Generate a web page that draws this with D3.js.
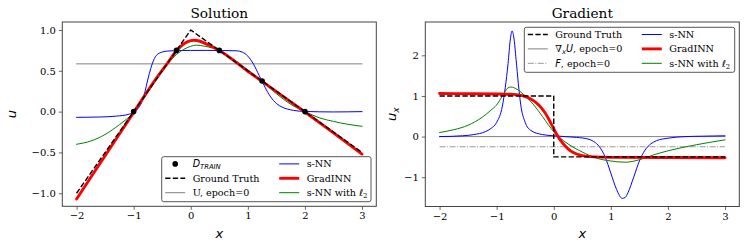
<!DOCTYPE html>
<html>
<head>
<meta charset="utf-8">
<script src="https://cdn.jsdelivr.net/npm/d3@7"></script>
<style>
  body { margin: 0; background: #fff; }
  text { font-family: "DejaVu Serif", serif; fill: #000; }
  .math { font-family: "DejaVu Sans", sans-serif; font-style: italic; }
</style>
</head>
<body>
<div id="container"></div>
<script>
// ---- data ----
const xTicks = [-2, -1, 0, 1, 2, 3];
const uTicks = [-1, -0.5, 0, 0.5, 1];
const uxTicks = [-1, 0, 1, 2];

// Solution panel
const truthX = [-2, 0, 3];
const truthU = [-1, 1, -0.5];
const trainX = [-1, -0.25, 0.5, 1.25, 2];
const trainU = [0, 0.75, 0.75, 0.375, 0];
const initU = 0.585;

const snnX = [-2, -1.6, -1.3, -1.1, -1.0, -0.95, -0.9, -0.85, -0.8, -0.75, -0.7, -0.65, -0.6, -0.5, -0.4, -0.2, 0, 0.3, 0.6, 0.8, 0.9, 1.0, 1.1, 1.2, 1.25, 1.3, 1.4, 1.5, 1.6, 1.7, 1.8, 2.0, 2.5, 3.0];
const snnU = [-0.07, -0.066, -0.055, -0.035, -0.01, 0.02, 0.06, 0.13, 0.25, 0.4, 0.53, 0.63, 0.69, 0.73, 0.742, 0.748, 0.75, 0.75, 0.748, 0.745, 0.73, 0.68, 0.58, 0.44, 0.37, 0.3, 0.18, 0.1, 0.055, 0.03, 0.015, 0.002, -0.004, 0.0];

const gradX = [-2, -1.5, -1, -0.6, -0.4, -0.25, -0.1, 0, 0.05, 0.15, 0.3, 0.5, 1, 1.5, 2, 2.5, 3];
const gradU = [-1.07, -0.54, -0.01, 0.41, 0.6, 0.745, 0.84, 0.87, 0.875, 0.865, 0.82, 0.75, 0.495, 0.245, -0.005, -0.26, -0.52];

const l2X = [-2, -1.75, -1.5, -1.25, -1, -0.75, -0.5, -0.25, 0, 0.1, 0.25, 0.5, 0.75, 1, 1.25, 1.5, 1.75, 2, 2.25, 2.5, 2.75, 3];
const l2U = [-0.4, -0.36, -0.28, -0.16, -0.01, 0.24, 0.5, 0.7, 0.8, 0.815, 0.8, 0.75, 0.64, 0.51, 0.37, 0.22, 0.09, 0.0, -0.075, -0.12, -0.155, -0.18];

// Gradient panel
const truthGX = [-2, 0, 0, 3];
const truthGU = [1, 1, -0.5, -0.5];
const initGrad = 0;
const initF = -0.25;

const snnGX = [-2, -1.6, -1.4, -1.2, -1.1, -1.0, -0.9, -0.85, -0.8, -0.76, -0.73, -0.7, -0.66, -0.62, -0.58, -0.5, -0.4, -0.2, 0, 0.2, 0.4, 0.6, 0.7, 0.8, 0.9, 1.0, 1.1, 1.2, 1.25, 1.3, 1.4, 1.5, 1.6, 1.7, 1.8, 2.0, 2.3, 2.6, 3.0];
const snnGU = [0.0, 0.02, 0.05, 0.12, 0.2, 0.35, 0.75, 1.2, 1.8, 2.4, 2.6, 2.45, 1.9, 1.3, 0.8, 0.35, 0.15, 0.05, 0.02, 0.0, -0.02, -0.06, -0.12, -0.25, -0.5, -0.9, -1.3, -1.52, -1.5, -1.38, -1.0, -0.6, -0.33, -0.18, -0.1, -0.04, 0.0, 0.01, 0.02];

const gradGX = [-2, -1.5, -1, -0.7, -0.55, -0.45, -0.35, -0.25, -0.15, -0.05, 0.05, 0.15, 0.25, 0.35, 0.5, 0.7, 1, 2, 3];
const gradGU = [1.06, 1.055, 1.05, 1.04, 1.01, 0.96, 0.88, 0.76, 0.58, 0.33, 0.06, -0.15, -0.3, -0.4, -0.47, -0.5, -0.51, -0.515, -0.52];

const l2GX = [-2, -1.75, -1.5, -1.25, -1.1, -1.0, -0.9, -0.8, -0.75, -0.65, -0.5, -0.35, -0.2, -0.1, 0, 0.1, 0.25, 0.5, 0.75, 1.0, 1.25, 1.5, 1.75, 2.0, 2.5, 3.0];
const l2GU = [0.1, 0.17, 0.28, 0.48, 0.65, 0.78, 1.0, 1.2, 1.22, 1.17, 1.0, 0.78, 0.5, 0.3, 0.12, -0.02, -0.18, -0.38, -0.53, -0.6, -0.63, -0.57, -0.45, -0.35, -0.2, -0.08];

// ---- drawing ----
const svg = d3.select('#container').append('svg')
  .attr('width', 747).attr('height', 249);
svg.append('rect').attr('width', 747).attr('height', 249).attr('fill', '#fff');

const fmtMinus = s => s.replace('-', '\u2212');

function zip(xs, ys) {
  return xs.map((x, i) => [x, ys[i]]);
}

function panel(opt) {
  const g = svg.append('g');
  const x = d3.scaleLinear().domain([-2.25, 3.25]).range([opt.left, opt.right]);
  const y = d3.scaleLinear().domain(opt.yDomain).range([opt.bottom, opt.top]);

  const clip = 'clip' + opt.name;
  svg.append('clipPath').attr('id', clip).append('rect')
    .attr('x', opt.left).attr('y', opt.top)
    .attr('width', opt.right - opt.left).attr('height', opt.bottom - opt.top);

  const plot = g.append('g').attr('clip-path', 'url(#' + clip + ')');

  const smooth = d3.line().x(d => x(d[0])).y(d => y(d[1])).curve(d3.curveMonotoneX);
  const straight = d3.line().x(d => x(d[0])).y(d => y(d[1]));

  opt.series.forEach(s => {
    plot.append('path')
      .attr('d', (s.smooth ? smooth : straight)(s.data))
      .attr('fill', 'none')
      .attr('stroke', s.color)
      .attr('stroke-width', s.width)
      .attr('stroke-dasharray', s.dash || null)
      .attr('stroke-linejoin', 'round')
      .attr('stroke-linecap', s.dash ? 'butt' : 'round');
  });

  if (opt.points) {
    plot.selectAll('circle')
      .data(opt.points)
      .enter()
      .append('circle')
      .attr('cx', d => x(d[0]))
      .attr('cy', d => y(d[1]))
      .attr('r', 2.8)
      .attr('fill', '#000');
  }

  // frame
  g.append('rect')
    .attr('x', opt.left).attr('y', opt.top)
    .attr('width', opt.right - opt.left).attr('height', opt.bottom - opt.top)
    .attr('fill', 'none').attr('stroke', '#444').attr('stroke-width', 1);

  // x axis
  const xa = g.append('g').attr('transform', 'translate(0,' + opt.bottom + ')')
    .call(d3.axisBottom(x).tickValues(xTicks).tickSize(3.5).tickPadding(2.5)
      .tickFormat(d => fmtMinus(String(d))));
  // y axis
  const ya = g.append('g').attr('transform', 'translate(' + opt.left + ',0)')
    .call(d3.axisLeft(y).tickValues(opt.yTicks).tickSize(3.5).tickPadding(3)
      .tickFormat(d => fmtMinus(d3.format(opt.yFormat)(d))));
  [xa, ya].forEach(a => {
    a.select('.domain').remove();
    a.selectAll('line').attr('stroke', '#444').attr('stroke-width', 0.8);
    a.selectAll('text').style('font-family', '"DejaVu Serif", serif').style('font-size', '10px');
  });

  const cx = (opt.left + opt.right) / 2;
  g.append('text').attr('x', cx).attr('y', 18)
    .attr('text-anchor', 'middle').style('font-size', '13.7px').text(opt.title);
  g.append('text').attr('class', 'math').attr('x', cx).attr('y', 238)
    .attr('text-anchor', 'middle').style('font-size', '13px').text('x');

  const yl = g.append('text').attr('class', 'math')
    .attr('transform', 'translate(' + opt.ylabelX + ',' + ((opt.top + opt.bottom) / 2) + ') rotate(-90)')
    .attr('text-anchor', 'middle').style('font-size', '13px');
  yl.append('tspan').text('u');
  if (opt.ylabelSub) {
    yl.append('tspan').attr('dy', 3).style('font-size', '9px').text(opt.ylabelSub);
  }

  legend(g, opt.legend);
}

function legend(g, L) {
  const lg = g.append('g').attr('transform', 'translate(' + L.x + ',' + L.y + ')');
  lg.append('rect')
    .attr('width', L.w).attr('height', L.h).attr('rx', 2)
    .attr('fill', '#fff').attr('fill-opacity', 0.85)
    .attr('stroke', '#444').attr('stroke-width', 0.9);
  const rows = [7.2, 21.6, 36];
  const cols = [{ h0: 3.5, h1: 23.5, t: 31 }, { h0: 117.5, h1: 137.5, t: 145 }];
  L.items.forEach(it => {
    const c = cols[it.col];
    const ry = rows[it.row];
    if (it.marker) {
      lg.append('circle').attr('cx', (c.h0 + c.h1) / 2).attr('cy', ry).attr('r', 2.8).attr('fill', '#000');
    } else {
      lg.append('line')
        .attr('x1', c.h0).attr('x2', c.h1).attr('y1', ry).attr('y2', ry)
        .attr('stroke', it.color).attr('stroke-width', it.width)
        .attr('stroke-dasharray', it.dash || null);
    }
    const t = lg.append('text').attr('x', c.t).attr('y', ry).attr('dy', '0.35em')
      .style('font-size', '9.6px');
    it.label.forEach(seg => {
      const ts = t.append('tspan').text(seg.t);
      if (seg.math) ts.attr('class', 'math');
      if (seg.sub) ts.attr('dy', 2).style('font-size', '6.8px');
      if (seg.up) ts.attr('dy', -2);
    });
  });
}

const blue = '#0000ff', red = '#ff0000', green = '#008000', gray = '#808080';

panel({
  name: 'sol', title: 'Solution',
  left: 62.3, right: 376.3, top: 22, bottom: 206.3,
  yDomain: [-1.16, 1.098], yTicks: uTicks, yFormat: '.1f',
  ylabelX: 16,
  series: [
    { data: [[-2, initU], [3, initU]], color: gray, width: 1 },
    { data: zip(snnX, snnU), color: blue, width: 1, smooth: true },
    { data: zip(l2X, l2U), color: green, width: 1, smooth: true },
    { data: zip(gradX, gradU), color: red, width: 2.9, smooth: true },
    { data: zip(truthX, truthU), color: '#000', width: 1.4, dash: '5.3,2.3' }
  ],
  points: zip(trainX, trainU),
  legend: {
    x: 161.7, y: 156.7, w: 209.3, h: 45,
    items: [
      { col: 0, row: 0, marker: true, label: [{ t: 'D', math: true }, { t: 'TRAIN', math: true, sub: true }] },
      { col: 0, row: 1, color: '#000', width: 1.4, dash: '5.3,2.3', label: [{ t: 'Ground Truth' }] },
      { col: 0, row: 2, color: gray, width: 1, label: [{ t: 'U, epoch=0' }] },
      { col: 1, row: 0, color: blue, width: 1, label: [{ t: 's-NN' }] },
      { col: 1, row: 1, color: red, width: 2.9, label: [{ t: 'GradINN' }] },
      { col: 1, row: 2, color: green, width: 1, label: [{ t: 's-NN with ' }, { t: '\u2113', math: true }, { t: '2', sub: true }] }
    ]
  }
});

panel({
  name: 'grad', title: 'Gradient',
  left: 425.3, right: 739.3, top: 22, bottom: 206.5,
  yDomain: [-1.72, 2.82], yTicks: uxTicks, yFormat: 'd',
  ylabelX: 396, ylabelSub: 'x',
  series: [
    { data: [[-2, initGrad], [3, initGrad]], color: gray, width: 1 },
    { data: [[-2, initF], [3, initF]], color: gray, width: 0.8, dash: '6,1.5,1,1.5' },
    { data: zip(snnGX, snnGU), color: blue, width: 1, smooth: true },
    { data: zip(l2GX, l2GU), color: green, width: 1, smooth: true },
    { data: zip(gradGX, gradGU), color: red, width: 2.9, smooth: true },
    { data: zip(truthGX, truthGU), color: '#000', width: 1.4, dash: '5.3,2.3' }
  ],
  legend: {
    x: 524.3, y: 27.3, w: 210.4, h: 45,
    items: [
      { col: 0, row: 0, color: '#000', width: 1.4, dash: '5.3,2.3', label: [{ t: 'Ground Truth' }] },
      { col: 0, row: 1, color: gray, width: 1, label: [{ t: '\u2207', math: false }, { t: 'x', math: true, sub: true }, { t: 'U', math: true, up: true }, { t: ', epoch=0' }] },
      { col: 0, row: 2, color: gray, width: 0.8, dash: '6,1.5,1,1.5', label: [{ t: 'F', math: true }, { t: ', epoch=0' }] },
      { col: 1, row: 0, color: blue, width: 1, label: [{ t: 's-NN' }] },
      { col: 1, row: 1, color: red, width: 2.9, label: [{ t: 'GradINN' }] },
      { col: 1, row: 2, color: green, width: 1, label: [{ t: 's-NN with ' }, { t: '\u2113', math: true }, { t: '2', sub: true }] }
    ]
  }
});
</script>
</body>
</html>
